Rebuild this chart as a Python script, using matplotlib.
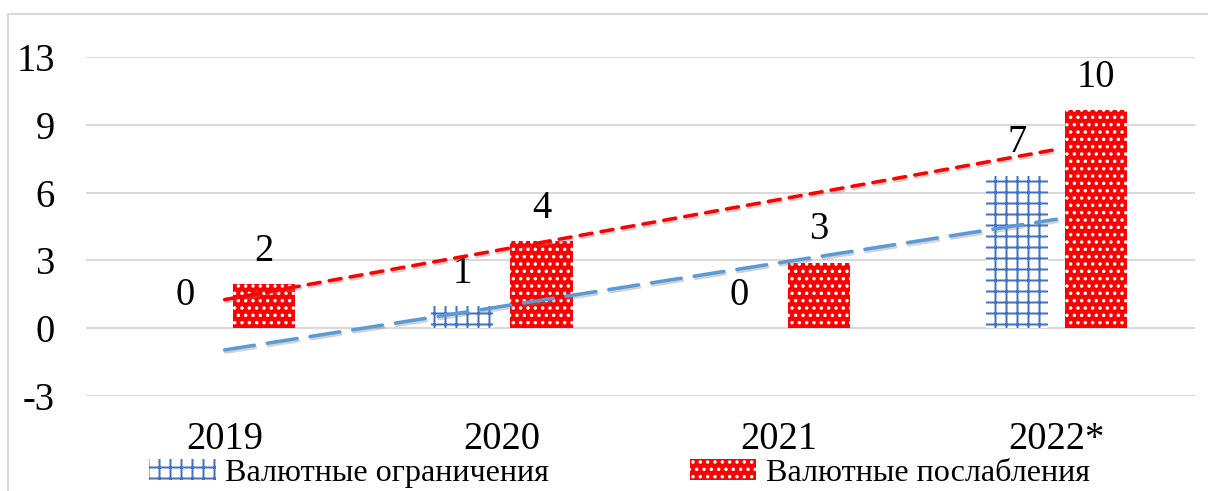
import numpy as np
import matplotlib
matplotlib.use("Agg")
import matplotlib.pyplot as plt
import matplotlib.patheffects as pe
from matplotlib.patches import Rectangle

years = ["2019", "2020", "2021", "2022*"]
restrictions = [0.0, 0.97, 0.0, 6.75]
easing = [1.95, 3.85, 2.9, 9.65]
restrictions_labels = ["0", "1", "0", "7"]
easing_labels = ["2", "4", "3", "10"]
ytick_values = [-3, 0, 3, 6, 9, 12]
ytick_labels = ["-3", "0", "3", "6", "9", "13"]
series_names = ["Валютные ограничения", "Валютные послабления"]

BLUE = "#4472C4"
TREND_BLUE = "#5B9BD5"
RED = "#FF0000"
GRID = "#D9D9D9"

DPI = 132
PT = 150 / DPI  # sizes below were tuned in points at 150 dpi

plt.rcParams["font.family"] = ["Liberation Serif", "DejaVu Serif"]
plt.rcParams["hatch.linewidth"] = 1.1

fig = plt.figure(figsize=(1208 / DPI, 491 / DPI), dpi=DPI)
fig.patches.append(Rectangle((8 / 1208, -0.1), 1.2, (491 - 14) / 491 + 0.1,
                             transform=fig.transFigure, fill=False,
                             edgecolor=GRID, linewidth=1.0 * PT))
ax = fig.add_axes([86 / 1208, 95 / 491, 1109 / 1208, 339 / 491])

x = np.arange(len(years))
off, w = 0.143, 0.224
b1 = ax.bar(x - off, restrictions, w, facecolor="white", edgecolor=BLUE,
            linewidth=0, hatch="++", zorder=3, label=series_names[0])
b2 = ax.bar(x + off, easing, w, facecolor=RED, edgecolor="white",
            linewidth=0, hatch="...", zorder=3, label=series_names[1])

for xs, vals, labs in [(x - off, restrictions, restrictions_labels),
                       (x + off, easing, easing_labels)]:
    for xi, v, lab in zip(xs, vals, labs):
        ax.annotate(lab, (xi, v), xytext=(0, 7 * PT), textcoords="offset points",
                    ha="center", va="bottom", fontsize=18.5 * PT,
                    annotation_clip=False)

shadow = [pe.SimpleLineShadow(offset=(0.6, -1.2), shadow_color="gray", alpha=0.35),
          pe.Normal()]
for vals, color, dash in [(restrictions, TREND_BLUE, (8.5, 3.7)),
                          (easing, RED, (3.4, 2.6))]:
    k, b = np.polyfit(x, vals, 1)
    ax.plot(x, k * x + b, color=color, lw=1.7 * PT, dashes=dash, zorder=4,
            dash_capstyle="round", path_effects=shadow)

ax.set_xlim(-0.5, 3.5)
ax.set_ylim(-3, 12)
ax.set_yticks(ytick_values)
ax.set_yticklabels(ytick_labels)
ax.set_xticks(x)
ax.set_xticklabels(years)
ax.tick_params(axis="both", length=0, labelsize=18.5 * PT)
ax.tick_params(axis="y", pad=15 * PT)
ax.tick_params(axis="x", pad=12 * PT)
for s in ax.spines.values():
    s.set_visible(False)
ax.grid(axis="y", color=GRID, linewidth=1.0 * PT, zorder=0)
ax.set_axisbelow(True)

fig.legend(handles=[b1, b2], loc="center", bbox_to_anchor=(0.513, 0.036),
           ncol=2, frameon=False, fontsize=15.4 * PT, handlelength=2.06,
           handleheight=0.6, handletextpad=0.3, columnspacing=4.4,
           borderpad=0.2)

fig.savefig("out.png", dpi=DPI)
